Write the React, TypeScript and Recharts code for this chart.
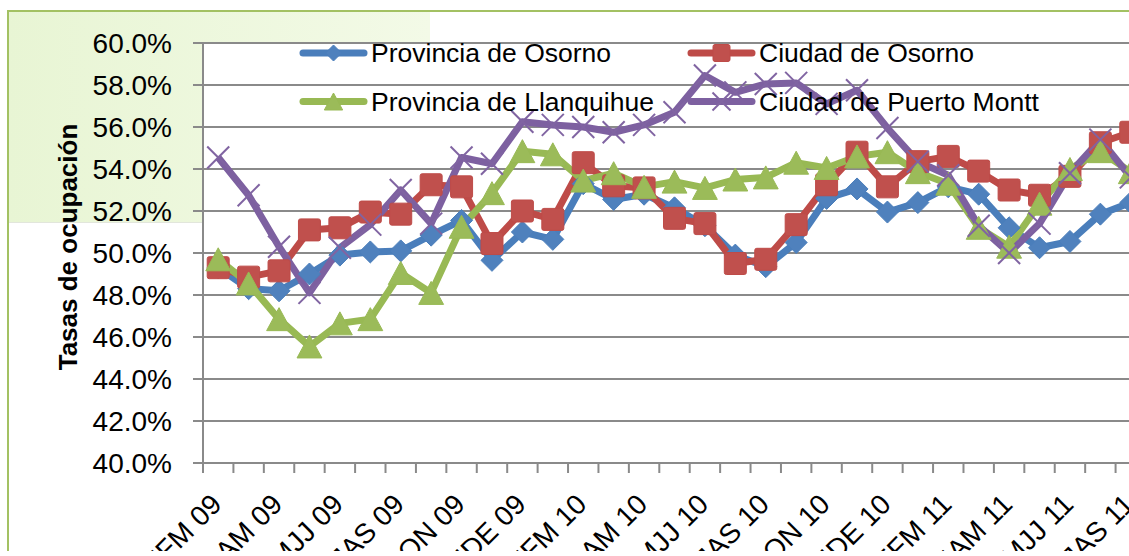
import React from 'react';
import { LineChart, Line, XAxis, YAxis, CartesianGrid } from 'recharts';

// ---------- data ----------
const categories = [
  'EFM 09', 'FMA 09', 'MAM 09', 'AMJ 09', 'MJJ 09', 'JJA 09', 'JAS 09', 'ASO 09', 'SON 09', 'OND 09', 'NDE 09',
  'DEF 10', 'EFM 10', 'FMA 10', 'MAM 10', 'AMJ 10', 'MJJ 10', 'JJA 10', 'JAS 10', 'ASO 10', 'SON 10', 'OND 10', 'NDE 10',
  'DEF 11', 'EFM 11', 'FMA 11', 'MAM 11', 'AMJ 11', 'MJJ 11', 'JJA 11', 'JAS 11',
];

const provinciaOsorno = [
  49.3, 48.3, 48.2, 49.0, 49.9, 50.05, 50.1, 50.85, 51.55, 49.65, 51.0,
  50.65, 53.3, 52.55, 52.8, 52.15, 51.3, 49.9, 49.35, 50.5, 52.6, 53.05, 51.95,
  52.4, 53.15, 52.8, 51.2, 50.25, 50.55, 51.85, 52.4,
];

const ciudadOsorno = [
  49.3, 48.85, 49.15, 51.1, 51.2, 51.95, 51.85, 53.25, 53.15, 50.45, 52.0,
  51.6, 54.3, 53.2, 53.1, 51.65, 51.4, 49.5, 49.7, 51.35, 53.25, 54.8, 53.15,
  54.35, 54.6, 53.9, 53.0, 52.75, 53.65, 55.25, 55.75,
];

const provinciaLlanquihue = [
  49.7, 48.55, 46.85, 45.55, 46.65, 46.85, 49.05, 48.1, 51.25, 52.85, 54.85,
  54.7, 53.45, 53.8, 53.15, 53.4, 53.1, 53.5, 53.6, 54.3, 54.05, 54.6, 54.8,
  53.85, 53.3, 51.2, 50.3, 52.35, 54.0, 54.85, 53.85,
];

const ciudadPuertoMontt = [
  54.55, 52.75, 50.3, 48.1, 50.25, 51.35, 53.0, 51.4, 54.55, 54.25, 56.25,
  56.1, 56.0, 55.75, 56.1, 56.7, 58.45, 57.65, 58.05, 58.1, 57.1, 57.75, 55.95,
  54.35, 53.7, 51.3, 50.0, 51.4, 53.8, 55.4, 53.6,
];

const yTicks = [40, 42, 44, 46, 48, 50, 52, 54, 56, 58, 60];
const seriesNames = ['Provincia de Osorno', 'Ciudad de Osorno', 'Provincia de Llanquihue', 'Ciudad de Puerto Montt'];
const yAxisTitle = 'Tasas de ocupación';

const data = categories.map((cat, i) => ({
  x: i + 0.5,
  cat,
  po: provinciaOsorno[i],
  co: ciudadOsorno[i],
  pl: provinciaLlanquihue[i],
  cp: ciudadPuertoMontt[i],
}));
const boundaryTicks = Array.from({ length: categories.length + 1 }, (_, i) => i);

// ---------- layout / style ----------
const FONT = '"Liberation Sans", Arial, sans-serif';
const CHART_W = 1160;
const CHART_H = 551;
const MARGIN = { top: 43, right: 14, left: 0, bottom: 0 };
const Y_AXIS_W = 203;
const X_AXIS_H = 88;
const PLOT_W = CHART_W - MARGIN.left - MARGIN.right - Y_AXIS_W;
const PLOT_BOTTOM = CHART_H - MARGIN.bottom - X_AXIS_H;
const BAND = PLOT_W / categories.length;
const GRID = '#8A8A8A';

const C_BLUE = '#4A7EBB';
const C_BLUE_M = '#4F81BD';
const C_RED = '#BE4B48';
const C_RED_M = '#C0504D';
const C_GREEN = '#98B954';
const C_GREEN_M = '#9BBB59';
const C_PURPLE = '#7D60A0';
const C_PURPLE_M = '#8064A2';

// ---------- markers ----------
const diamond = (cx: number, cy: number, r: number, key?: any) => (
  <polygon key={key} points={`${cx},${cy - r} ${cx + r},${cy} ${cx},${cy + r} ${cx - r},${cy}`} fill={C_BLUE_M} stroke={C_BLUE} strokeWidth={1} />
);
const square = (cx: number, cy: number, r: number, key?: any) => (
  <rect key={key} x={cx - r} y={cy - r} width={2 * r} height={2 * r} rx={2} fill={C_RED_M} stroke={C_RED} strokeWidth={1} />
);
const triangle = (cx: number, cy: number, r: number, key?: any) => (
  <polygon key={key} points={`${cx},${cy - r} ${cx + r * 1.08},${cy + r} ${cx - r * 1.08},${cy + r}`} fill={C_GREEN_M} stroke={C_GREEN} strokeWidth={1} />
);
const cross = (cx: number, cy: number, r: number, key?: any) => (
  <g key={key}>
    <line x1={cx - r} y1={cy - r} x2={cx + r} y2={cy + r} stroke={C_PURPLE_M} strokeWidth={2} />
    <line x1={cx - r} y1={cy + r} x2={cx + r} y2={cy - r} stroke={C_PURPLE_M} strokeWidth={2} />
  </g>
);

const dotOf = (fn: any, r: number) => (p: any) => {
  if (p.cx == null || p.cy == null) return <g key={`e-${p.index}`} />;
  return fn(p.cx, p.cy, r, `d-${p.index}`);
};

// ---------- axis pieces ----------
const XTick = (props: any) => {
  const { x, payload } = props;
  const v = payload.value;
  if (v % 2 !== 0 || v >= categories.length) return <g />;
  const ax = x + BAND / 2 + 5;
  const ay = PLOT_BOTTOM + 43;
  return (
    <text x={ax} y={ay} textAnchor="end" transform={`rotate(-45 ${ax} ${ay})`} fontSize={28} fontFamily={FONT} fill="#000">
      {categories[v]}
    </text>
  );
};

const YTitle = (props: any) => {
  const vb = props.viewBox || { x: 0, y: MARGIN.top, width: Y_AXIS_W, height: PLOT_BOTTOM - MARGIN.top };
  const tx = vb.x + 77;
  const ty = vb.y + vb.height / 2 - 6;
  return (
    <text x={tx} y={ty} textAnchor="middle" transform={`rotate(-90 ${tx} ${ty})`} fontSize={26} fontWeight="bold" fontFamily={FONT} fill="#000">
      {yAxisTitle}
    </text>
  );
};

const LegendBox = () => {
  const rows = [
    { name: seriesNames[0], color: C_BLUE, x: 300, y: 53, mk: (cx: number, cy: number) => diamond(cx, cy, 8) },
    { name: seriesNames[1], color: C_RED, x: 688, y: 53, mk: (cx: number, cy: number) => square(cx, cy, 8.5) },
    { name: seriesNames[2], color: C_GREEN, x: 300, y: 101.5, mk: (cx: number, cy: number) => triangle(cx, cy, 8.5) },
    { name: seriesNames[3], color: C_PURPLE, x: 688, y: 101.5, mk: (cx: number, cy: number) => cross(cx, cy, 9) },
  ];
  return (
    <svg width={1129} height={130} style={{ display: 'block', overflow: 'visible' }}>
      {rows.map((r) => (
        <g key={r.name}>
          <line x1={r.x + 3} y1={r.y} x2={r.x + 64} y2={r.y} stroke={r.color} strokeWidth={7} strokeLinecap="round" />
          {r.mk(r.x + 33.5, r.y)}
          <text x={r.x + 71} y={r.y + 9} fontSize={26.5} fontFamily={FONT} fill="#000">{r.name}</text>
        </g>
      ))}
    </svg>
  );
};

export default function App() {
  return (
    <div style={{ position: 'fixed', left: 0, top: 0, width: 1129, height: 551, overflow: 'hidden', background: '#fff', fontFamily: FONT }}>
      <div style={{ position: 'absolute', left: 9, top: 12, width: 421, height: 210, background: 'linear-gradient(to right, #E8F5D4, #F3FAE7)', borderBottom: '1px solid #E2E6DC' }} />
      <div style={{ position: 'absolute', left: 7, top: 10, width: 1122, height: 2, background: '#A3C163' }} />
      <div style={{ position: 'absolute', left: 7, top: 10, width: 2, height: 541, background: '#A3C163' }} />
      <div style={{ position: 'absolute', left: 0, top: 0 }}>
        <LineChart width={CHART_W} height={CHART_H} data={data} margin={MARGIN}>
          <CartesianGrid vertical={false} stroke={GRID} strokeWidth={2} fill="#fff" />
          <XAxis
            type="number"
            dataKey="x"
            domain={[0, categories.length]}
            ticks={boundaryTicks}
            interval={0}
            height={X_AXIS_H}
            axisLine={{ stroke: GRID, strokeWidth: 2 }}
            tickLine={{ stroke: GRID, strokeWidth: 2 }}
            tickSize={10}
            tick={(p: any) => <XTick {...p} />}
          />
          <YAxis
            type="number"
            domain={[40, 60]}
            ticks={yTicks}
            interval={0}
            width={Y_AXIS_W}
            axisLine={{ stroke: GRID, strokeWidth: 2 }}
            tickLine={{ stroke: GRID, strokeWidth: 2 }}
            tickSize={10}
            tickMargin={21}
            tickFormatter={(v: number) => `${v.toFixed(1)}%`}
            tick={{ fontSize: 28, fontFamily: FONT, fill: '#000' }}
            label={(p: any) => <YTitle {...p} />}
          />
          <Line type="linear" dataKey="po" name={seriesNames[0]} stroke={C_BLUE} strokeWidth={7} strokeLinejoin="round" dot={dotOf(diamond, 11)} activeDot={false} isAnimationActive={false} />
          <Line type="linear" dataKey="co" name={seriesNames[1]} stroke={C_RED} strokeWidth={7} strokeLinejoin="round" dot={dotOf(square, 11)} activeDot={false} isAnimationActive={false} />
          <Line type="linear" dataKey="pl" name={seriesNames[2]} stroke={C_GREEN} strokeWidth={7} strokeLinejoin="round" dot={dotOf(triangle, 11.5)} activeDot={false} isAnimationActive={false} />
          <Line type="linear" dataKey="cp" name={seriesNames[3]} stroke={C_PURPLE} strokeWidth={7} strokeLinejoin="round" dot={dotOf(cross, 11)} activeDot={false} isAnimationActive={false} />
        </LineChart>
      </div>
      <div style={{ position: 'absolute', left: 0, top: 0, pointerEvents: 'none' }}>
        <LegendBox />
      </div>
    </div>
  );
}
